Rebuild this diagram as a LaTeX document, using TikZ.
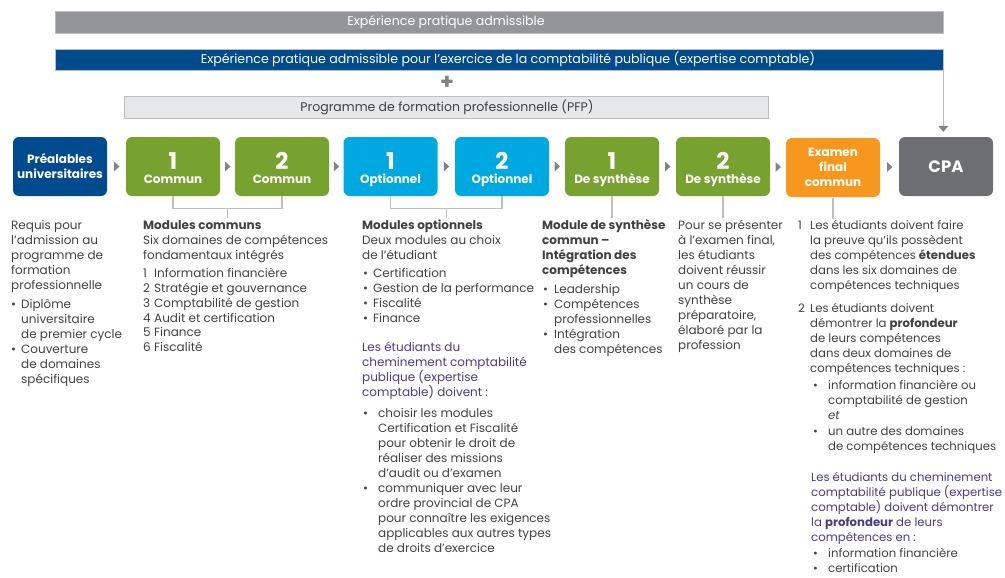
\documentclass[tikz,border=0pt]{standalone}
\usepackage{fontspec}
\setmainfont{Poppins}
\usetikzlibrary{calc,arrows.meta}
\definecolor{txt}{HTML}{414042}
\definecolor{purp}{HTML}{463C87}
\definecolor{barg}{HTML}{939598}
\definecolor{navy}{HTML}{004B8D}
\definecolor{pfpfill}{HTML}{E6E7E8}
\definecolor{edge}{HTML}{BCBEC0}
\definecolor{grn}{HTML}{78A22F}
\definecolor{cyn}{HTML}{00A8E1}
\definecolor{org}{HTML}{F7971D}
\definecolor{cpag}{HTML}{6D6E71}
\definecolor{trig}{HTML}{808285}
\newcommand\ind[1]{\hspace*{#1}}
\newcommand\bodysize{\fontsize{12}{15}\selectfont}
\tikzset{
  bar/.style={draw=edge, line width=0.6pt, inner sep=0pt},
  bartxt/.style={inner sep=0pt, font=\fontsize{12.6}{13}\selectfont},
  stagebox/.style={rounded corners=6pt, minimum width=94pt, minimum height=59pt, inner sep=0pt,
    text=white, align=center, font=\fontsize{12}{15}\selectfont\bfseries},
  numtxt/.style={text=white, inner sep=0pt, anchor=base, font=\fontsize{23}{23}\selectfont\bfseries},
  labtxt/.style={text=white, inner sep=0pt, anchor=base, font=\fontsize{12}{12}\selectfont\bfseries},
  bracket/.style={draw=edge, line width=1.2pt},
  marker/.style={fill=trig},
  col/.style={anchor=base west, inner sep=0pt, text=txt, font=\bodysize},
  connector/.style={draw=edge, line width=1pt, -{Triangle[width=10pt,length=6pt,color=trig]}, shorten >=5pt}
}
\begin{document}
\begin{tikzpicture}[x=1pt,y=-1pt]
\useasboundingbox (0,0) rectangle (1005,578);
% top bars
\node[bar, fill=barg, minimum width=888pt, minimum height=22pt] (gbar) at (499,22) {};
\node[bartxt, text=white] (gtxt) at (446,22) {Expérience pratique admissible};
\node[bar, fill=navy, minimum width=888pt, minimum height=21pt] (nbar) at (499,59.5) {};
\node[bartxt, text=white] (ntxt) at (508,59.5) {Expérience pratique admissible pour l’exercice de la comptabilité publique (expertise comptable)};
\node[text=trig, inner sep=0pt, font=\fontsize{22}{22}\selectfont\bfseries] (plus) at (447,82.5) {+};
\node[bar, fill=pfpfill, minimum width=644pt, minimum height=22pt] (pfp) at (446,107) {};
\node[bartxt, text=txt, font=\fontsize{12.5}{13}\selectfont] (pfptxt) at (447,107) {Programme de formation professionnelle (PFP)};
% stage boxes
\node[stagebox, fill=navy] (pre) at (60,166.5) {Préalables\\universitaires};
\node[stagebox, fill=grn] (c1) at (173,166.5) {};
\node[stagebox, fill=grn] (c2) at (282,166.5) {};
\node[stagebox, fill=cyn] (o1) at (390.5,166.5) {};
\node[stagebox, fill=cyn] (o2) at (502,166.5) {};
\node[stagebox, fill=grn] (s1) at (612,166.5) {};
\node[stagebox, fill=grn] (s2) at (723,166.5) {};
\node[stagebox, fill=org] (ex) at (833,167.5) {Examen\\final\\commun};
\node[stagebox, fill=cpag, font=\fontsize{16.5}{16.5}\selectfont\bfseries] (cpa) at (946,166.5) {CPA};
% numbers and labels
\foreach \b/\n/\l in {c1/1/Commun, c2/2/Commun, o1/1/Optionnel, o2/2/Optionnel, s1/1/De synthèse, s2/2/De synthèse}{
  \node[numtxt] (\b num) at ($(\b.center)+(0,2.5)$) {\n};
  \node[labtxt] (\b lab) at ($(\b.center)+(0,16.5)$) {\l};
}
% markers between boxes
\foreach \a/\b in {pre/c1, c1/c2, c2/o1, o1/o2, o2/s1, s1/s2, s2/ex, ex/cpa}{
  \fill[marker] ($(\a.east)!0.5!(\b.west)$) +(-2.5,-5) -- +(3,0) -- +(-2.5,5) -- cycle;
}
% connector from top bar to CPA
\draw[connector] (nbar.north east) -- (nbar.north east |- cpa.north);
% brackets
\draw[bracket] (c1.south) -- ++(0,12) -| (c2.south);
\coordinate (cm) at ($(c1.south)!0.5!(c2.south)+(0,12)$);
\draw[bracket] (cm) -- ++(0,10);
\draw[bracket] (o1.south) -- ++(0,12) -| (o2.south);
\coordinate (om) at ($(o1.south)!0.5!(o2.south)+(0,12)$);
\draw[bracket] (om) -- ++(0,10);
\draw[bracket] (s1.south) -- ++(0,22);
\draw[bracket] (s2.south) -- ++(0,22);
\draw[bracket] ([yshift=-1pt]ex.south) -- ++(0,21);
% text columns
\node[col] (ta) at (11,229) {\parbox[t]{125pt}{\raggedright
Requis pour\\
l’admission au\\
programme de\\
formation\\
professionnelle\\[4pt]
•\ind{5pt}Diplôme\\
\ind{10pt}universitaire\\
\ind{10pt}de premier cycle\\
•\ind{5pt}Couverture\\
\ind{10pt}de domaines\\
\ind{10pt}spécifiques}};
\node[col] (tb) at (143,229) {\parbox[t]{210pt}{\raggedright
\textbf{Modules communs}\\
Six domaines de compétences\\
fondamentaux intégrés\\[3pt]
\makebox[11pt][l]{1}Information financière\\
\makebox[11pt][l]{2}Stratégie et gouvernance\\
\makebox[11pt][l]{3}Comptabilité de gestion\\
\makebox[11pt][l]{4}Audit et certification\\
\makebox[11pt][l]{5}Finance\\
\makebox[11pt][l]{6}Fiscalité}};
\node[col] (tc) at (362,229) {\parbox[t]{190pt}{\raggedright
\textbf{Modules optionnels}\\
Deux modules au choix\\
de l’étudiant\\[3pt]
\ind{1pt}\makebox[10pt][l]{•}Certification\\
\ind{1pt}\makebox[10pt][l]{•}Gestion de la performance\\
\ind{1pt}\makebox[10pt][l]{•}Fiscalité\\
\ind{1pt}\makebox[10pt][l]{•}Finance\\[15pt]
\textcolor{purp}{Les étudiants du}\\
\textcolor{purp}{cheminement comptabilité}\\
\textcolor{purp}{publique (expertise}\\
\textcolor{purp}{comptable) doivent :}\\[6pt]
\ind{1pt}\makebox[15pt][l]{•}choisir les modules\\
\ind{16pt}Certification et Fiscalité\\
\ind{16pt}pour obtenir le droit de\\
\ind{16pt}réaliser des missions\\
\ind{16pt}d’audit ou d’examen\\
\ind{1pt}\makebox[15pt][l]{•}communiquer avec leur\\
\ind{16pt}ordre provincial de CPA\\
\ind{16pt}pour connaître les exigences\\
\ind{16pt}applicables aux autres types\\
\ind{16pt}de droits d’exercice}};
\node[col] (td) at (542,229) {\parbox[t]{140pt}{\raggedright
\textbf{Module de synthèse}\\
\textbf{commun –}\\
\textbf{Intégration des}\\
\textbf{compétences}\\[4pt]
\ind{1pt}\makebox[11pt][l]{•}Leadership\\
\ind{1pt}\makebox[11pt][l]{•}Compétences\\
\ind{12pt}professionnelles\\
\ind{1pt}\makebox[11pt][l]{•}Intégration\\
\ind{12pt}des compétences}};
\node[col] (te) at (678,229) {\parbox[t]{120pt}{\raggedright
Pour se présenter\\
à l’examen final,\\
les étudiants\\
doivent réussir\\
un cours de\\
synthèse\\
préparatoire,\\
élaboré par la\\
profession}};
\node[col, font=\fontsize{11.7}{15}\selectfont] (tf) at (798,229) {\parbox[t]{210pt}{\raggedright
\makebox[12pt][l]{1}Les étudiants doivent faire\\
\ind{12pt}la preuve qu’ils possèdent\\
\ind{12pt}des compétences \textbf{étendues}\\
\ind{12pt}dans les six domaines de\\
\ind{12pt}compétences techniques\\[8pt]
\makebox[12pt][l]{2}Les étudiants doivent\\
\ind{12pt}démontrer la \textbf{profondeur}\\
\ind{12pt}de leurs compétences\\
\ind{12pt}dans deux domaines de\\
\ind{12pt}compétences techniques :\\[3pt]
\ind{15pt}\makebox[15pt][l]{•}information financière ou\\
\ind{30pt}comptabilité de gestion\\
\ind{30pt}\textit{et}\\[1pt]
\ind{15pt}\makebox[15pt][l]{•}un autre des domaines\\
\ind{30pt}de compétences techniques\\[16pt]
\ind{13pt}\textcolor{purp}{Les étudiants du cheminement}\\
\ind{13pt}\textcolor{purp}{comptabilité publique (expertise}\\
\ind{13pt}\textcolor{purp}{comptable) doivent démontrer}\\
\ind{13pt}\textcolor{purp}{la \textbf{profondeur} de leurs}\\
\ind{13pt}\textcolor{purp}{compétences en :}\\[1pt]
\ind{15pt}\makebox[15pt][l]{•}information financière\\
\ind{15pt}\makebox[15pt][l]{•}certification}};
\end{tikzpicture}
\end{document}
